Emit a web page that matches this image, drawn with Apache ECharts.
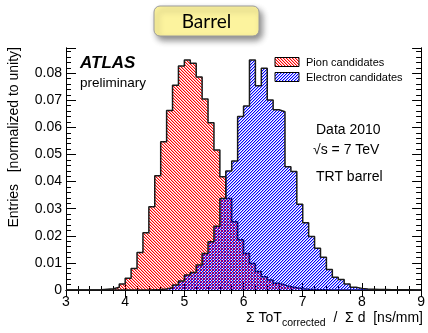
<!DOCTYPE html>
<html>
<head>
<meta charset="utf-8">
<script src="https://cdn.jsdelivr.net/npm/echarts@6/dist/echarts.min.js"></script>
<style>
html,body{margin:0;padding:0;background:#fff;}
#chart{width:428px;height:333px;}
</style>
</head>
<body>
<div id="chart"></div>
<script>
// ---- data ----
const binStart = 3.0;
const binWidth = 0.1;
// 60 bins from 3.0 to 9.0, normalized entries
const pionValues = [
  0, 0, 0, 0, 0, 0.0001, 0.0003, 0.0005, 0.0010, 0.0022,
  0.0043, 0.0079, 0.0138, 0.0211, 0.0307, 0.0422, 0.0547, 0.0662, 0.0756, 0.0827,
  0.0849, 0.0837, 0.0786, 0.0705, 0.0617, 0.0517, 0.0418, 0.0338, 0.0252, 0.0185,
  0.0135, 0.0098, 0.0068, 0.0049, 0.0037, 0.0025, 0.0018, 0.0012, 0.0008, 0.0005,
  0.0003, 0.0002, 0.0001, 0.0001, 0, 0, 0, 0, 0, 0,
  0, 0, 0, 0, 0, 0, 0, 0, 0, 0
];
const electronValues = [
  0, 0, 0, 0, 0, 0, 0, 0, 0, 0,
  0, 0, 0, 0, 0.0001, 0.0002, 0.0004, 0.0008, 0.0018, 0.0033,
  0.0055, 0.0065, 0.0092, 0.0135, 0.0178, 0.0235, 0.0338, 0.0439, 0.0476, 0.0640,
  0.0679, 0.0849, 0.0754, 0.0818, 0.0701, 0.0665, 0.0658, 0.0455, 0.0437, 0.0316,
  0.0248, 0.0197, 0.0154, 0.0121, 0.0076, 0.0047, 0.0039, 0.0022, 0.0010, 0.0006,
  0.0004, 0.0003, 0.0002, 0.0002, 0.0001, 0.0001, 0.0001, 0.0001, 0, 0
];
const xTickLabels = ['3','4','5','6','7','8','9'];
const seriesNames = ['Pion candidates', 'Electron candidates'];
const yMax = 0.0893;

function histPoints(vals) {
  const pts = vals.map((v, i) => [+(binStart + i * binWidth).toFixed(2), v]);
  pts.push([+(binStart + vals.length * binWidth).toFixed(2), vals[vals.length - 1]]);
  return pts;
}

// pixel-exact diagonal hatch tile: solid 1px diagonal + faint neighbour
function hatch(rgb, dir) {
  const n = 3;
  const c = document.createElement('canvas');
  c.width = n; c.height = n;
  const g = c.getContext('2d');
  for (let i = 0; i < n; i++) {
    const x = dir === '/' ? (n - 1 - i) : i;
    g.fillStyle = 'rgba(' + rgb + ',1)';
    g.fillRect(x, i, 1, 1);
    g.fillStyle = 'rgba(' + rgb + ',0.35)';
    g.fillRect((x + 1) % n, i, 1, 1);
  }
  return c;
}
const redHatch = { image: hatch('255,0,0', '\\'), repeat: 'repeat' };
const blueHatch = { image: hatch('0,0,255', '/'), repeat: 'repeat' };

const FONT = '"Liberation Sans", Arial, Helvetica, sans-serif';
const axisLineStyle = { show: true, lineStyle: { color: '#000', width: 1 } };

function xAx(pos, labels) {
  return {
    type: 'value', position: pos, min: 3, max: 9, interval: 1,
    axisLine: axisLineStyle,
    axisTick: { show: true, inside: true, length: 7, lineStyle: { color: '#000' } },
    minorTick: { show: true, splitNumber: 5, length: 4, lineStyle: { color: '#000' } },
    splitLine: { show: false }, minorSplitLine: { show: false },
    axisLabel: labels ? {
      show: true, margin: 5, fontSize: 14, color: '#000', fontFamily: FONT,
      formatter: v => { const i = xTickLabels.indexOf(String(v)); return i >= 0 ? xTickLabels[i] : ''; }
    } : { show: false }
  };
}
function yAx(pos, interval, len, labels) {
  return {
    type: 'value', position: pos, min: 0, max: yMax, interval: interval,
    axisLine: axisLineStyle,
    axisTick: { show: true, inside: true, length: len, lineStyle: { color: '#000' } },
    splitLine: { show: false },
    axisLabel: labels ? {
      show: true, margin: 4, fontSize: 14, color: '#000', fontFamily: FONT,
      formatter: v => {
        const k = v * 100;
        if (Math.abs(k - Math.round(k)) > 1e-6) return '';
        return v === 0 ? '0' : v.toFixed(2);
      }
    } : { show: false }
  };
}

const chart = echarts.init(document.getElementById('chart'), null, { renderer: 'canvas' });
chart.setOption({
  animation: false,
  backgroundColor: '#fff',
  grid: { left: 66, right: 5, top: 48, bottom: 43, containLabel: false },
  xAxis: [xAx('bottom', true), xAx('top', false)],
  yAxis: [
    yAx('left', 0.01, 10, true),
    yAx('left', 0.002, 5, false),
    yAx('right', 0.01, 9, false),
    yAx('right', 0.002, 5, false)
  ],
  series: [
    {
      name: seriesNames[0], type: 'line', step: 'end', xAxisIndex: 0, yAxisIndex: 0,
      data: histPoints(pionValues), showSymbol: false, silent: true,
      lineStyle: { color: '#1a1a1a', width: 1.5 },
      areaStyle: { color: redHatch, opacity: 1 }, z: 2
    },
    {
      name: seriesNames[1], type: 'line', step: 'end', xAxisIndex: 0, yAxisIndex: 0,
      data: histPoints(electronValues), showSymbol: false, silent: true,
      lineStyle: { color: '#1a1a1a', width: 1.5 },
      areaStyle: { color: blueHatch, opacity: 1 }, z: 3
    }
  ],
  graphic: [
    // title box
    { type: 'rect', z: 100, shape: { x: 154, y: 6, width: 105, height: 30, r: 6 },
      style: { fill: '#fcf39e', stroke: '#9c9c9c', lineWidth: 1,
               shadowBlur: 6, shadowOffsetX: 3, shadowOffsetY: 4, shadowColor: 'rgba(0,0,0,0.45)' } },
    { type: 'text', z: 101, x: 206.5, y: 22,
      style: { text: 'Barrel', fontSize: 19, fontFamily: 'Lato, "Open Sans", sans-serif', fill: '#000',
               align: 'center', verticalAlign: 'middle' } },
    // legend
    { type: 'rect', z: 100, shape: { x: 275, y: 57.5, width: 24, height: 9 },
      style: { fill: redHatch, stroke: '#000', lineWidth: 1 } },
    { type: 'rect', z: 100, shape: { x: 275, y: 72.5, width: 24, height: 9 },
      style: { fill: blueHatch, stroke: '#000', lineWidth: 1 } },
    { type: 'text', z: 100, x: 306, y: 63,
      style: { text: seriesNames[0], fontSize: 11, fontFamily: FONT, fill: '#000', verticalAlign: 'middle' } },
    { type: 'text', z: 100, x: 306, y: 78,
      style: { text: seriesNames[1], fontSize: 11, fontFamily: FONT, fill: '#000', verticalAlign: 'middle' } },
    // ATLAS label
    { type: 'text', z: 100, x: 80, y: 63,
      style: { text: 'ATLAS', fontSize: 17, fontWeight: 'bold', fontStyle: 'italic', fontFamily: FONT, fill: '#000', verticalAlign: 'middle' } },
    { type: 'text', z: 100, x: 80, y: 83,
      style: { text: 'preliminary', fontSize: 13.5, fontFamily: FONT, fill: '#000', verticalAlign: 'middle' } },
    // data labels
    { type: 'text', z: 100, x: 316, y: 130,
      style: { text: 'Data 2010', fontSize: 14, fontFamily: FONT, fill: '#000', verticalAlign: 'middle' } },
    { type: 'text', z: 100, x: 313, y: 150,
      style: { text: '\u221As = 7 TeV', fontSize: 14, fontFamily: FONT, fill: '#000', verticalAlign: 'middle' } },
    { type: 'text', z: 100, x: 316, y: 177,
      style: { text: 'TRT barrel', fontSize: 14, fontFamily: FONT, fill: '#000', verticalAlign: 'middle' } },
    // y axis title
    { type: 'text', z: 100, x: 14, y: 47, rotation: Math.PI / 2,
      style: { text: 'Entries   [normalized to unity]', fontSize: 14, fontFamily: FONT, fill: '#000',
               align: 'right', verticalAlign: 'middle' } },
    // x axis title
    { type: 'text', z: 100, x: 423, y: 318,
      style: { text: '{m|\u03A3 ToT}{s|corrected}{m|  /  \u03A3 d  [ns/mm]}', align: 'right', verticalAlign: 'middle',
               fill: '#000',
               rich: { m: { fontSize: 14, fontFamily: FONT, fill: '#000' },
                       s: { fontSize: 10.5, fontFamily: FONT, fill: '#000', padding: [10, 0, 0, 0] } } } }
  ]
});
</script>
</body>
</html>
